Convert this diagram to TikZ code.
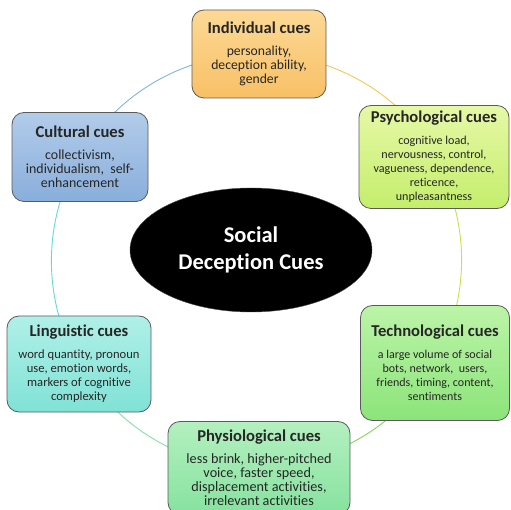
\documentclass[tikz,border=0pt]{standalone}
\usepackage{fontspec}
\setmainfont{Carlito}[Ligatures=NoCommon]
\usetikzlibrary{shapes.geometric,backgrounds}
\definecolor{indA}{HTML}{FCD995}\definecolor{indB}{HTML}{F8C066}
\definecolor{psyA}{HTML}{E6F8A6}\definecolor{psyB}{HTML}{C4EE6C}
\definecolor{culA}{HTML}{B2CCEA}\definecolor{culB}{HTML}{89AEDB}
\definecolor{linA}{HTML}{B0F0E8}\definecolor{linB}{HTML}{80E2D6}
\definecolor{tecA}{HTML}{BCF4A8}\definecolor{tecB}{HTML}{8CE47A}
\definecolor{phyA}{HTML}{B4F0C0}\definecolor{phyB}{HTML}{86E29E}
\definecolor{edge}{HTML}{5A5A5A}
\tikzset{
  cuebox/.style={draw=edge, line width=0.8pt, rounded corners=12pt, align=center,
    text=black!85, inner sep=2pt},
  body/.style={font=\fontsize{#1}{14}\selectfont},
  ring/.style={line width=0.9pt},
}
\newcommand{\cuetitle}[1]{{\fontsize{16.6}{17}\selectfont\bfseries #1}\\[8pt]}
\begin{document}
\begin{tikzpicture}[x=1pt,y=-1pt]
\useasboundingbox (0,0) rectangle (511,510);
\node[ellipse, fill=black, draw=black!70, minimum width=242, minimum height=124,
  align=center, text=white, font=\fontsize{22.5}{26.5}\selectfont\bfseries] (core) at (251,250)
  {Social\\Deception Cues};
\node[cuebox, body=13.7, top color=indA, bottom color=indB, minimum width=134, minimum height=88] (ind) at (259,54)
  {\cuetitle{Individual cues}personality,\\deception ability,\\gender};
\node[cuebox, body=12.1, top color=psyA, bottom color=psyB, minimum width=150, minimum height=103] (psy) at (434,157)
  {\cuetitle{Psychological cues}cognitive load,\\nervousness, control,\\vagueness, dependence,\\reticence,\\unpleasantness};
\node[cuebox, body=12, top color=tecA, bottom color=tecB, minimum width=149, minimum height=115] (tec) at (435,363)
  {\cuetitle{Technological cues}a large volume of social\\bots, network,\ \ users,\\friends, timing, content,\\sentiments};
\node[cuebox, body=14.2, top color=phyA, bottom color=phyB, minimum width=182, minimum height=93] (phy) at (259,468)
  {\cuetitle{Physiological cues}less brink, higher-pitched\\voice, faster speed,\\displacement activities,\\irrelevant activities};
\node[cuebox, body=12.6, top color=linA, bottom color=linB, minimum width=144, minimum height=96] (lin) at (79,364)
  {\cuetitle{Linguistic cues}word quantity, pronoun\\use, emotion words,\\markers of cognitive\\complexity};
\node[cuebox, body=13.9, top color=culA, bottom color=culB, minimum width=136, minimum height=89] (cul) at (80,157)
  {\cuetitle{Cultural cues}collectivism,\\individualism,\ \ self-\\enhancement};
\begin{scope}[on background layer]
  \draw[ring, draw={rgb,255:red,245;green,200;blue,80}] (ind.center) arc[start angle=-90, end angle=-30, radius=206];
  \draw[ring, draw={rgb,255:red,200;green,225;blue,70}] (psy.center) arc[start angle=-30, end angle=30, radius=206];
  \draw[ring, draw={rgb,255:red,130;green,215;blue,90}] (tec.center) arc[start angle=30, end angle=90, radius=206];
  \draw[ring, draw={rgb,255:red,130;green,225;blue,170}] (phy.center) arc[start angle=90, end angle=150, radius=206];
  \draw[ring, draw={rgb,255:red,100;green,215;blue,215}] (lin.center) arc[start angle=150, end angle=210, radius=206];
  \draw[ring, draw={rgb,255:red,130;green,180;blue,225}] (cul.center) arc[start angle=210, end angle=270, radius=206];
\end{scope}
\end{tikzpicture}
\end{document}
